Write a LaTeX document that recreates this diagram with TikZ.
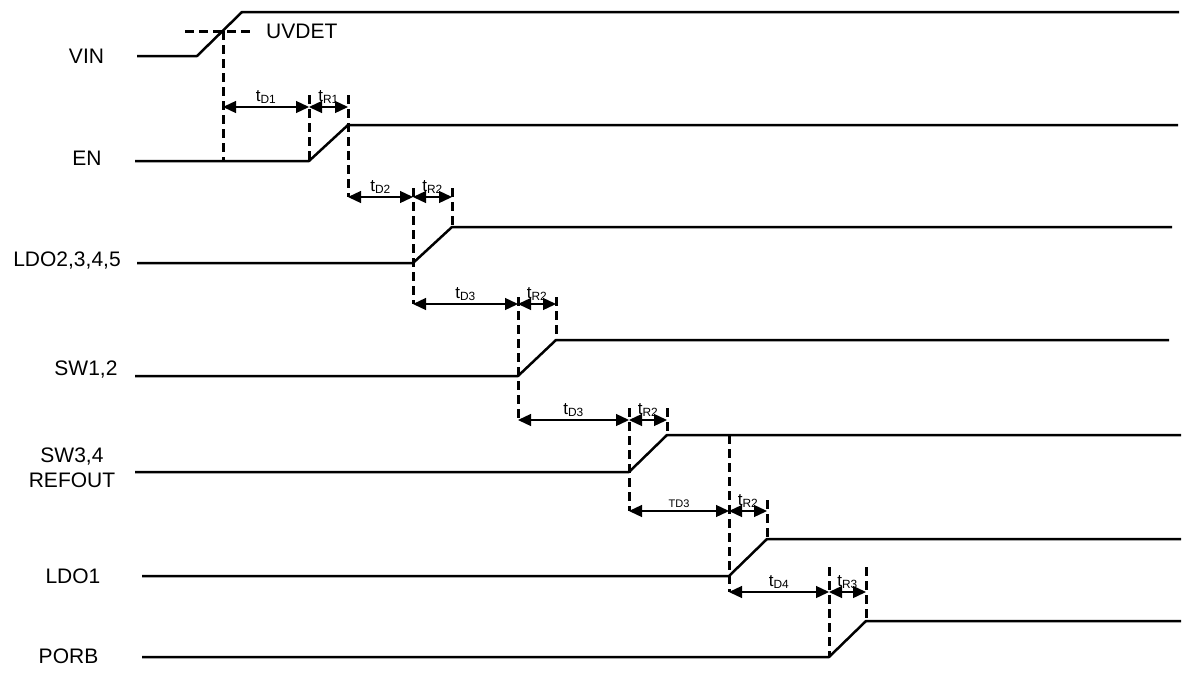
\documentclass[tikz,border=0pt]{standalone}
\usepackage{fontspec}
\setmainfont{Liberation Sans}
\usetikzlibrary{arrows.meta}

\begin{document}
\begin{tikzpicture}[x=1pt,y=-1pt,
        sig/.style={line width=2.5pt,line join=round},
        guide/.style={line width=3pt,dash pattern=on 9pt off 5pt},
        dim/.style={line width=1.3pt,{Triangle[length=13pt,width=12pt]}-{Triangle[length=13pt,width=12pt]}},
        siglabel/.style={font=\fontsize{21}{25}\selectfont,anchor=base,inner sep=0pt},
        tlab/.style={font=\fontsize{17}{19}\selectfont,inner sep=2.5pt,above}]
    \useasboundingbox (0,0) rectangle (1182,672);

    % ramp corners of each signal
    \coordinate (uv) at (223,31);    \coordinate (uvR) at (252,31);
    \coordinate (vin0) at (197,56);  \coordinate (vin1) at (242,12);
    \coordinate (en0) at (309,161);  \coordinate (en1) at (348,125);
    \coordinate (ldo0) at (413,263); \coordinate (ldo1) at (452,227);
    \coordinate (sw0) at (518,376);  \coordinate (sw1) at (556,340);
    \coordinate (ref0) at (629,472); \coordinate (ref1) at (667,435);
    \coordinate (lo0) at (729,576);  \coordinate (lo1) at (767,539);
    \coordinate (por0) at (829,657); \coordinate (por1) at (866,621);

    % rows of the timing arrows and tops of the guides
    \coordinate (row1) at (0,107); \coordinate (top1) at (0,95);
    \coordinate (row2) at (0,197); \coordinate (top2) at (0,188);
    \coordinate (row3) at (0,304); \coordinate (top3) at (0,297);
    \coordinate (row4) at (0,420); \coordinate (top4) at (0,408);
    \coordinate (row5) at (0,511); \coordinate (top5) at (0,500);
    \coordinate (row6) at (0,592); \coordinate (top6) at (0,567);

    \node[siglabel] (vin) at (86.5,63) {VIN};
    \node[siglabel] (en) at (87,165) {EN};
    \node[siglabel] (ldo) at (67,266) {LDO2,3,4,5};
    \node[siglabel] (sw) at (86,375) {SW1,2};
    \node[siglabel,align=center,anchor=center] (ref) at (72,468) {SW3,4\\REFOUT};
    \node[siglabel] (lo) at (73,583) {LDO1};
    \node[siglabel] (por) at (68.5,663) {PORB};
    \node[siglabel,anchor=base west] (uvdet) at (266,38) {UVDET};

    % waveforms
    \draw[sig] (137,56) -- (vin0) -- (vin1) -- (1179,12);
    \draw[sig] (135,161) -- (en0) -- (en1) -- (1178,125);
    \draw[sig] (137,263) -- (ldo0) -- (ldo1) -- (1172,227);
    \draw[sig] (135,376) -- (sw0) -- (sw1) -- (1169,340);
    \draw[sig] (135,472) -- (ref0) -- (ref1) -- (1181,435);
    \draw[sig] (142,576) -- (lo0) -- (lo1) -- (1181,539);
    \draw[sig] (142,657) -- (por0) -- (por1) -- (1181,621);

    % dashed guides
    \draw[guide] (185,31) -- (uvR);
    \draw[guide] (uv) -- (uv |- en0);
    \draw[guide] (en0 |- top1) -- (en0);
    \draw[guide] (en1 |- top1) -- (en1 |- row2);
    \draw[guide] (ldo1 |- top2) -- (ldo1);
    \draw[guide] (ldo0 |- top2) -- (ldo0 |- row3);
    \draw[guide] (sw1 |- top3) -- (sw1);
    \draw[guide] (sw0 |- top3) -- (sw0 |- row4);
    \draw[guide] (ref1 |- top4) -- (ref1);
    \draw[guide] (ref0 |- top4) -- (ref0 |- row5);
    \draw[guide] (lo0 |- ref1) -- (lo0 |- row6);
    \draw[guide] (lo1 |- top5) -- (lo1);
    \draw[guide] (por0 |- top6) -- (por0);
    \draw[guide] (por1 |- top6) -- (por1);

    % timing arrows
    \path[dim]
        (uv |- row1) edge node[tlab] {t\textsubscript{D1}} (en0 |- row1)
        (en0 |- row1) edge node[tlab] {t\textsubscript{R1}} (en1 |- row1)
        (en1 |- row2) edge node[tlab] {t\textsubscript{D2}} (ldo0 |- row2)
        (ldo0 |- row2) edge node[tlab] {t\textsubscript{R2}} (ldo1 |- row2)
        (ldo0 |- row3) edge node[tlab] {t\textsubscript{D3}} (sw0 |- row3)
        (sw0 |- row3) edge node[tlab] {t\textsubscript{R2}} (sw1 |- row3)
        (sw0 |- row4) edge node[tlab] {t\textsubscript{D3}} (ref0 |- row4)
        (ref0 |- row4) edge node[tlab] {t\textsubscript{R2}} (ref1 |- row4)
        (ref0 |- row5) edge node[tlab,font=\fontsize{11}{12}\selectfont,inner sep=3pt] {TD3} (lo0 |- row5)
        (lo0 |- row5) edge node[tlab] {t\textsubscript{R2}} (lo1 |- row5)
        (lo0 |- row6) edge node[tlab] {t\textsubscript{D4}} (por0 |- row6)
        (por0 |- row6) edge node[tlab] {t\textsubscript{R3}} (por1 |- row6);
\end{tikzpicture}
\end{document}
